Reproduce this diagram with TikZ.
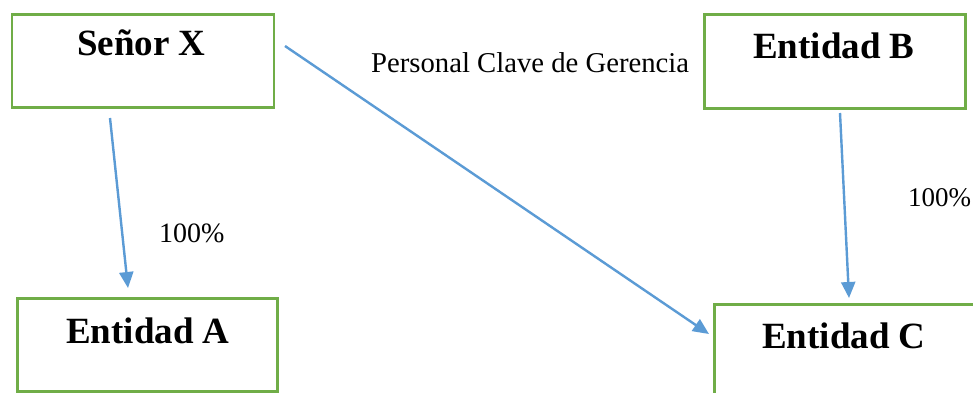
\documentclass[tikz,border=0pt]{standalone}
\usepackage{fontspec}
\setmainfont{Liberation Serif}
\usetikzlibrary{arrows.meta}
\definecolor{boxgreen}{HTML}{70AD47}
\definecolor{arrowblue}{HTML}{5B9BD5}
\tikzset{
  entbox/.style={draw=boxgreen, line width=2.8pt, fill=none},
  enttext/.style={inner sep=0pt, anchor=base west, font=\fontsize{37}{40}\selectfont\bfseries},
  smalltext/.style={inner sep=0pt, anchor=base west, font=\fontsize{28}{32}\selectfont},
  conn/.style={draw=arrowblue, line width=2.4pt, -{Triangle[length=16pt,width=14pt]}}
}
\begin{document}
\begin{tikzpicture}[x=1pt,y=-1pt]
\useasboundingbox (0,0) rectangle (973,392);
\clip (0,0) rectangle (973,392);
\fill[white] (0,0) rectangle (973,392);
% boxes
\node[entbox, minimum width=262pt, minimum height=93pt, anchor=north west, inner sep=0pt] (sx) at (10.5,13) {};
\node[entbox, minimum width=261pt, minimum height=94pt, anchor=north west, inner sep=0pt] (eb) at (703,13) {};
\node[entbox, minimum width=260pt, minimum height=93pt, anchor=north west, inner sep=0pt] (ea) at (16,297) {};
\node[entbox, minimum width=300pt, minimum height=120pt, anchor=north west, inner sep=0pt] (ec) at (713,303) {};
% texts
\node[enttext] (sxt) at (77,55) {Señor X};
\node[enttext] (ebt) at (753,58) {Entidad B};
\node[enttext] (eat) at (66,343) {Entidad A};
\node[enttext] (ect) at (762,348) {Entidad C};
\node[smalltext, font=\fontsize{28.7}{32}\selectfont] (pcg) at (371,72) {Personal Clave de Gerencia};
\node[smalltext] (pa) at (159,242) {100\%};
\node[smalltext, font=\fontsize{27}{30}\selectfont] (pb) at (908,206) {100\%};
% connector ends
\coordinate (s1) at (110,118);
\coordinate (e1) at (128,288);
\coordinate (s2) at (285,46);
\coordinate (e2) at (709,334);
\coordinate (s3) at (840,113);
\coordinate (e3) at (849,298);
\draw[conn] (s1) -- (e1);
\draw[conn] (s2) -- (e2);
\draw[conn] (s3) -- (e3);
\end{tikzpicture}
\end{document}
